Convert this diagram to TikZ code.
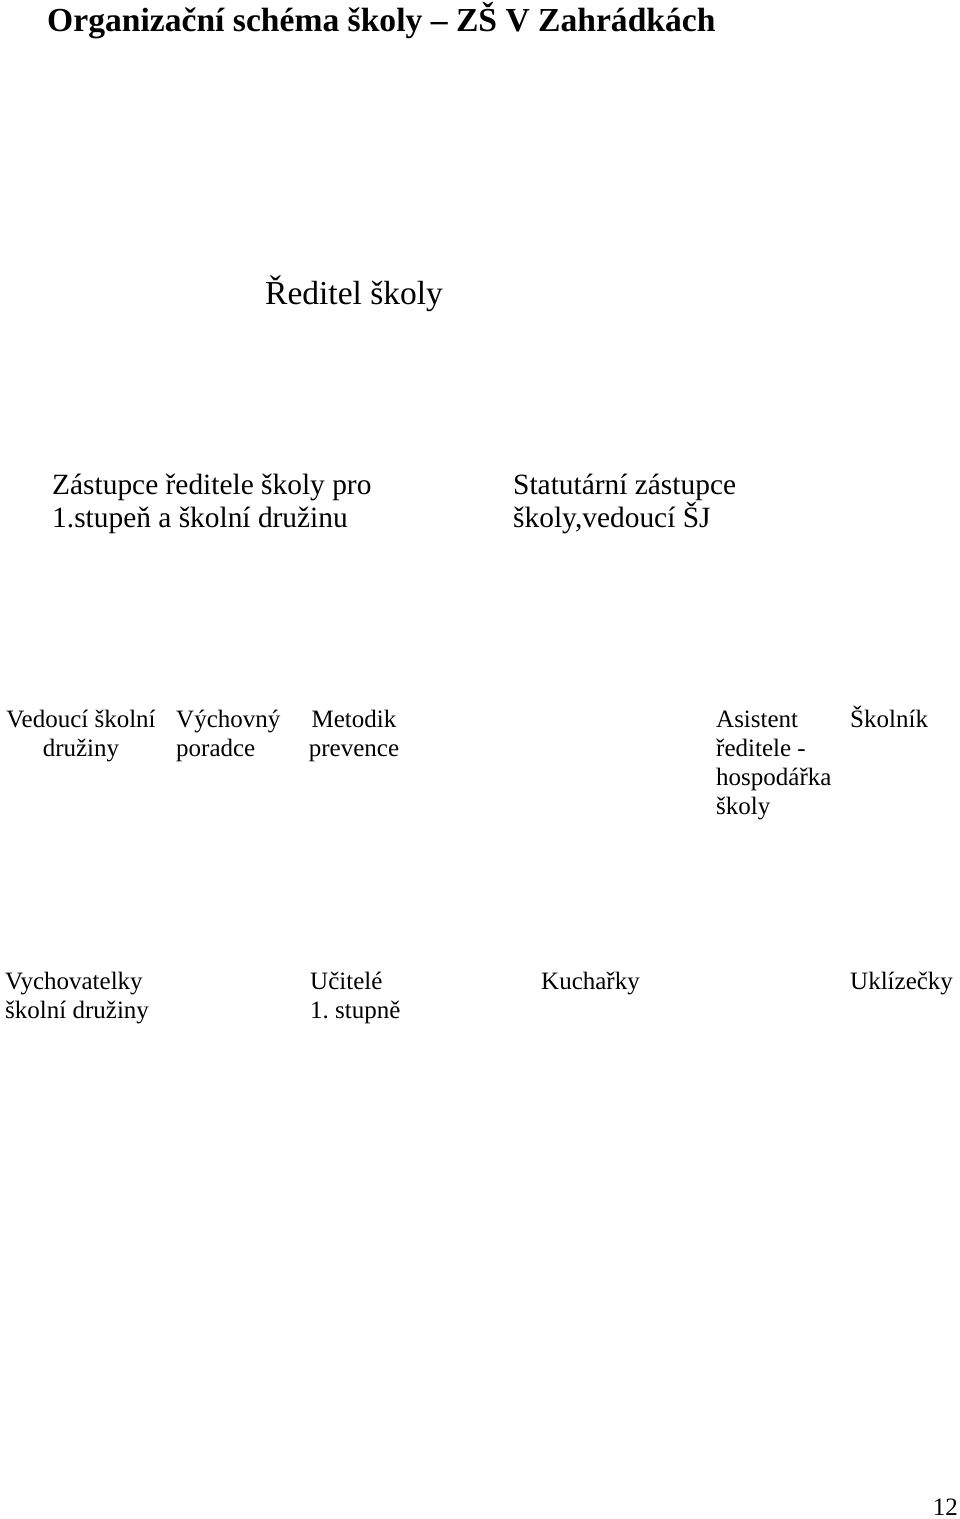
\documentclass[tikz,border=0pt]{standalone}
\usepackage{fontspec}
\setmainfont{Liberation Serif}
\usetikzlibrary{positioning}

\tikzset{
  headline/.style = {inner sep = 0pt, anchor = base west, font = \fontsize{33.6}{38}\selectfont\bfseries},
  big/.style = {inner sep = 0pt, anchor = base west, align = left, font = \fontsize{29.4}{33}\selectfont},
  small/.style = {inner sep = 0pt, anchor = base west, align = left, font = \fontsize{25}{29}\selectfont}
}

\begin{document}
\begin{tikzpicture}[x = 1pt, y = -1pt]
        \useasboundingbox (0,0) rectangle (960,1519);
        \node (title) [headline] at (47,31)
        {Organizační schéma školy – ZŠ V Zahrádkách};
        \node (head) [big, font = \fontsize{33.5}{38}\selectfont] at (265,304)
        {Ředitel školy};
        % zastupci
        \node (deputy) [big] at (52,527)
        {Zástupce ředitele školy pro\\1.stupeň a školní družinu};
        \node (statutory) [big] at (513,527)
        {Statutární zástupce\\školy,vedoucí ŠJ};
        % vedouci a poradci
        \node (clubhead) [small, align = center, anchor = base] at (81,756)
        {Vedoucí školní\\družiny};
        \node (advisor) [small] at (176,756) {Výchovný\\poradce};
        \node (prevention) [small, align = center, anchor = base] at (354,756)
        {Metodik\\prevence};
        \node (assistant) [small] at (716,814)
        {Asistent\\ředitele -\\hospodářka\\školy};
        \node (caretaker) [small] at (850,727) {Školník};
        % zamestnanci
        \node (educators) [small] at (5,1018) {Vychovatelky\\školní družiny};
        \node (teachers) [small] at (310,1018) {Učitelé\\1.\ stupně};
        \node (cooks) [small] at (541,989) {Kuchařky};
        \node (cleaners) [small] at (850,989) {Uklízečky};
        \node (page) [small, anchor = base east] at (958,1515) {12};
    \end{tikzpicture}
\end{document}
